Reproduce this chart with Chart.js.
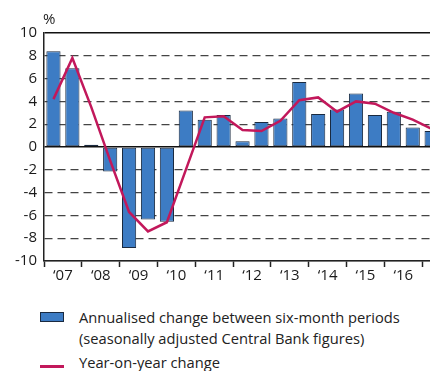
<!DOCTYPE html>
<html>
<head>
<meta charset="utf-8">
<script src="https://cdn.jsdelivr.net/npm/chart.js"></script>
<style>
  body { margin: 0; background: #fff; font-family: "Open Sans", sans-serif; color: #222; }
  #wrap { position: relative; width: 430px; height: 371px; overflow: hidden; }
  #mainCanvas { position: absolute; left: 0; top: 0; }
  #unit { position: absolute; left: 43px; top: 8px; font-size: 15px; }
  .leg { position: absolute; left: 79px; font-size: 14.7px; line-height: 21px; }
  .sw { position: absolute; left: 40px; }
</style>
</head>
<body>
<div id="wrap">
  <canvas id="mainCanvas" width="460" height="290"></canvas>
  <div id="unit">%</div>
  <div class="sw" style="top:312px;width:22px;height:8px;background:#3d7cc4;border:1px solid #1a2a40;"></div>
  <div class="leg" style="top:307px;">Annualised change between six-month periods<br>(seasonally adjusted Central Bank figures)</div>
  <div class="sw" style="top:365px;width:24px;height:3px;background:#c2185b;"></div>
  <div class="leg" style="top:352px;">Year-on-year change</div>
</div>
<script>
// half-year periods, x = year + 0.25 (H1) / + 0.75 (H2)
var periods = [2007.25, 2007.75, 2008.25, 2008.75, 2009.25, 2009.75, 2010.25, 2010.75,
               2011.25, 2011.75, 2012.25, 2012.75, 2013.25, 2013.75, 2014.25, 2014.75,
               2015.25, 2015.75, 2016.25, 2016.75, 2017.25];
var sixMonth = [8.4, 6.9, 0.2, -2.15, -8.85, -6.35, -6.55, 3.2,
                2.4, 2.8, 0.5, 2.2, 2.5, 5.7, 2.9, 3.3,
                4.7, 2.8, 3.1, 1.7, 1.4];
var yearOnYear = [4.2, 7.8, 3.5, -1.2, -5.7, -7.4, -6.6, -2.0,
                  2.6, 2.7, 1.5, 1.4, 2.3, 4.1, 4.35, 3.1,
                  4.0, 3.8, 3.0, 2.4, 1.6];
var yearLabels = ['\u201807', '\u201808', '\u201809', '\u201810', '\u201811',
                  '\u201812', '\u201813', '\u201814', '\u201815', '\u201816'];
var firstYear = 2007, lastYear = 2018;
var yTicks = [-10, -8, -6, -4, -2, 0, 2, 4, 6, 8, 10];

function pts(vals) {
    return vals.map(function (v, i) { return { x: periods[i], y: v }; });
}

var ChartObj = new Chart(document.getElementById('mainCanvas'), {
    data: {
        datasets: [{
            type: 'line',
            label: 'Year-on-year change',
            data: pts(yearOnYear),
            borderColor: '#c2185b',
            borderWidth: 2.5,
            pointRadius: 0,
            tension: 0,
            order: 0
        }, {
            type: 'bar',
            label: 'Annualised change between six-month periods',
            data: pts(sixMonth),
            backgroundColor: '#3d7cc4',
            borderColor: '#1a2a40',
            borderWidth: 1,
            borderSkipped: false,
            barPercentage: 0.75,
            categoryPercentage: 1,
            order: 1
        }]
    },
    options: {
        responsive: false,
        animation: false,
        layout: { padding: { top: 33, left: 0, right: 0, bottom: 0 } },
        plugins: { legend: { display: false }, tooltip: { enabled: false } },
        scales: {
            x: {
                type: 'linear',
                min: firstYear,
                max: lastYear,
                offset: false,
                afterBuildTicks: function (scale) {
                    var t = [];
                    for (var y = firstYear; y <= lastYear; y++) {
                        t.push({ value: y });
                        if (y < lastYear) t.push({ value: y + 0.5 });
                    }
                    scale.ticks = t;
                },
                afterFit: function (scale) { scale.height = 29; },
                ticks: {
                    autoSkip: false,
                    maxRotation: 0,
                    padding: 0,
                    color: '#1a1a1a',
                    font: { family: 'Open Sans', size: 15 },
                    callback: function (v) {
                        var i = Math.floor(v) - firstYear;
                        return (v % 1 !== 0 && i < yearLabels.length) ? yearLabels[i] : '';
                    }
                },
                grid: {
                    offset: false,
                    drawOnChartArea: false,
                    tickLength: 6,
                    tickWidth: 1.5,
                    tickColor: function (ctx) {
                        return (ctx.tick && ctx.tick.value % 1 === 0) ? '#222' : 'rgba(0,0,0,0)';
                    }
                },
                border: { color: '#222', width: 1.5 }
            },
            y: {
                min: -10,
                max: 10,
                afterBuildTicks: function (scale) {
                    scale.ticks = yTicks.map(function (v) { return { value: v }; });
                },
                afterFit: function (scale) { scale.width = 44; },
                ticks: {
                    padding: 7,
                    color: '#1a1a1a',
                    font: { family: 'Open Sans', size: 15 }
                },
                grid: {
                    drawTicks: false,
                    color: function (ctx) {
                        var v = ctx.tick ? ctx.tick.value : null;
                        return (v === 0 || v === 10) ? '#111' : '#444';
                    },
                    lineWidth: function (ctx) {
                        var v = ctx.tick ? ctx.tick.value : null;
                        return (v === 0 || v === 10) ? 1.5 : 1.2;
                    }
                },
                border: {
                    color: '#222',
                    width: 1.5,
                    dash: function (ctx) {
                        var v = ctx.tick ? ctx.tick.value : null;
                        if (v === null || v === 0 || v === 10 || v === -10) return [];
                        return [8, 5];
                    }
                }
            }
        }
    }
});
</script>
</body>
</html>
